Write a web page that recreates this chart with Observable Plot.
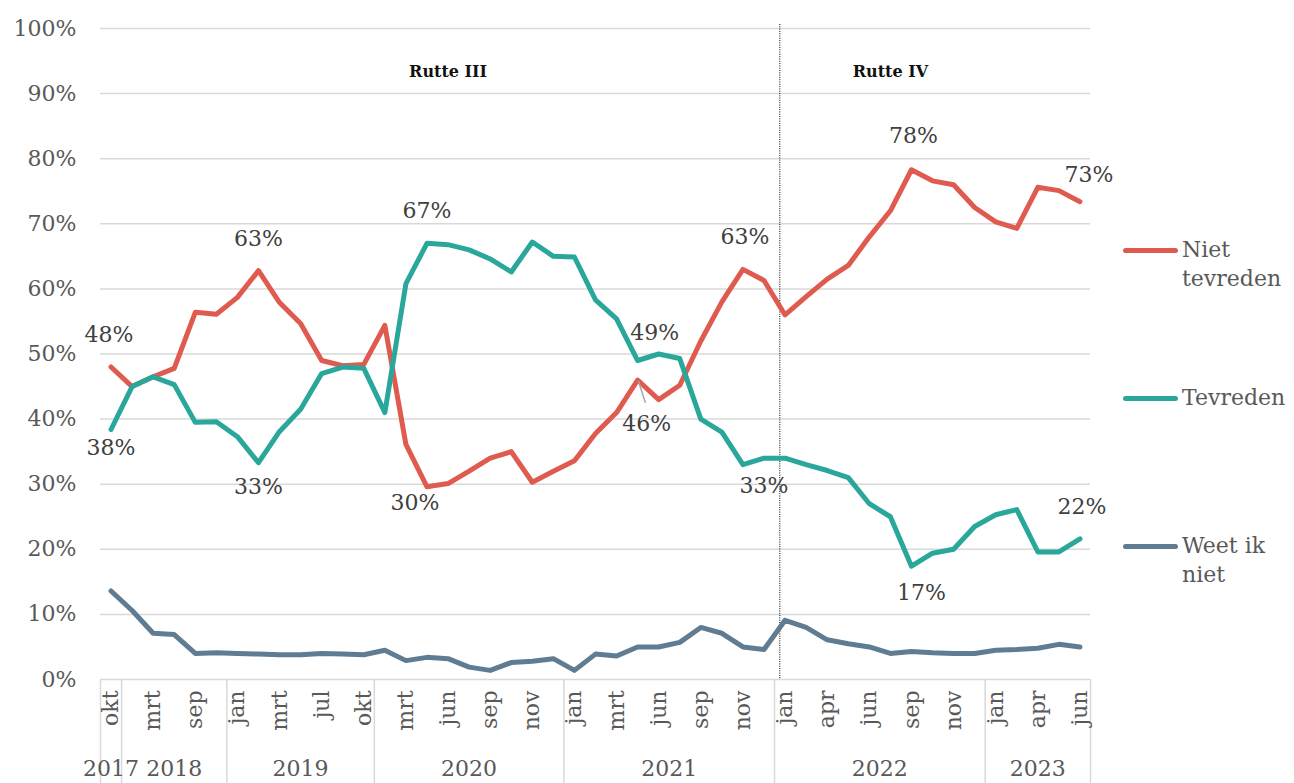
<!DOCTYPE html>
<html>
<head>
<meta charset="utf-8">
<script src="https://cdn.jsdelivr.net/npm/d3@7"></script>
<script src="https://cdn.jsdelivr.net/npm/@observablehq/plot@0.6"></script>
<style>
  html, body { margin: 0; padding: 0; background: #fff; }
  #wrap { position: relative; width: 1294px; height: 783px; overflow: hidden; font-family: "DejaVu Serif", serif; }
  .leg { position: absolute; font-size: 22px; line-height: 29px; color: #595959; }
  .legline { position: absolute; height: 5px; width: 55px; border-radius: 3px; }
</style>
</head>
<body>
<div id="wrap"></div>
<script>
// ---- data (one survey per category, evenly spaced) ----
const months = [
  "okt",
  "jan","mrt","jun","sep","nov",
  "jan","feb","mrt","mei","jul","sep","okt",
  "jan","mrt","mei","jun","aug","sep","okt","nov","dec",
  "jan","feb","mrt","mei","jun","jul","sep","okt","nov","dec",
  "jan","feb","apr","mei","jun","jul","sep","okt","nov","dec",
  "jan","mrt","apr","mei","jun"
];
const years = [
  2017,
  2018,2018,2018,2018,2018,
  2019,2019,2019,2019,2019,2019,2019,
  2020,2020,2020,2020,2020,2020,2020,2020,2020,
  2021,2021,2021,2021,2021,2021,2021,2021,2021,2021,
  2022,2022,2022,2022,2022,2022,2022,2022,2022,2022,
  2023,2023,2023,2023,2023
];
const nietTevreden = [
  48.0,
  45.0,46.5,47.8,56.4,56.1,
  58.7,62.8,57.9,54.7,49.0,48.2,48.4,
  54.4,36.1,29.6,30.1,32.0,34.0,35.0,30.3,32.0,
  33.6,37.8,41.0,46.0,43.0,45.2,52.0,58.0,63.0,61.3,
  56.0,58.8,61.5,63.6,68.0,72.0,78.3,76.6,76.0,72.5,
  70.3,69.3,75.6,75.1,73.4
];
const tevreden = [
  38.4,
  45.0,46.5,45.3,39.5,39.6,
  37.3,33.3,38.1,41.5,47.0,48.0,47.8,
  41.0,60.8,67.0,66.8,66.0,64.6,62.6,67.2,65.0,
  64.9,58.3,55.4,49.0,50.0,49.3,40.0,38.0,33.0,34.0,
  34.0,33.0,32.1,31.0,27.0,25.0,17.4,19.4,20.0,23.5,
  25.3,26.1,19.6,19.6,21.6
];
const weetIkNiet = [
  13.6,
  10.6,7.1,6.9,4.0,4.1,
  4.0,3.9,3.8,3.8,4.0,3.9,3.8,
  4.5,2.9,3.4,3.2,1.9,1.4,2.6,2.8,3.2,
  1.4,3.9,3.6,5.0,5.0,5.7,8.0,7.1,5.0,4.6,
  9.1,8.0,6.1,5.5,5.0,4.0,4.3,4.1,4.0,4.0,
  4.5,4.6,4.8,5.4,5.0
];
const seriesNames = ["Niet tevreden", "Tevreden", "Weet ik niet"];
const seriesColors = ["#E05B4F", "#2AA79B", "#5F7C93"];
const yTicks = [0,10,20,30,40,50,60,70,80,90,100];
const cabinets = [{name: "Rutte III", at: 16}, {name: "Rutte IV", at: 37}];
const cabinetChange = 31.75; // jan 2022
// labelled points: [series, index]
const labelled = [
  ["Niet tevreden", 0], ["Tevreden", 0],
  ["Niet tevreden", 7], ["Tevreden", 7],
  ["Tevreden", 15], ["Niet tevreden", 15],
  ["Tevreden", 25], ["Niet tevreden", 25],
  ["Niet tevreden", 30], ["Tevreden", 30],
  ["Niet tevreden", 38], ["Tevreden", 38],
  ["Niet tevreden", 46], ["Tevreden", 46]
];

// ---- derived tables ----
const valuesBySeries = {"Niet tevreden": nietTevreden, "Tevreden": tevreden, "Weet ik niet": weetIkNiet};
const N = months.length;
const rows = seriesNames.flatMap(s => valuesBySeries[s].map((v, i) => ({s, i, v})));
const monthTicks = months.map((m, i) => ({i, m})).filter(d => d.i % 2 === 0);
const yearGroups = d3.groups(months.map((m, i) => ({i, y: years[i]})), d => d.y)
  .map(([y, arr]) => ({year: String(y), first: arr[0].i, last: arr[arr.length - 1].i}));
const boundaries = [-0.5, ...yearGroups.map(g => g.last + 0.5)];
const yearLabels = yearGroups.map(g => ({year: g.year, c: (g.first + g.last) / 2}));

// label offsets (style)
const off = {
  "Niet tevreden|0": [-2, -32], "Tevreden|0": [0, 18],
  "Niet tevreden|7": [0, -32], "Tevreden|7": [0, 24],
  "Tevreden|15": [0, -32], "Niet tevreden|15": [-12, 16],
  "Tevreden|25": [17, -28], "Niet tevreden|25": [9, 44],
  "Niet tevreden|30": [2, -32], "Tevreden|30": [21, 21],
  "Niet tevreden|38": [2, -34], "Tevreden|38": [10, 27],
  "Niet tevreden|46": [9, -27], "Tevreden|46": [2, -32]
};
const labelMarks = labelled.map(([s, i]) => {
  const v = valuesBySeries[s][i];
  const [dx, dy] = off[s + "|" + i];
  return Plot.text([{i, v}], {x: "i", y: "v", text: d => Math.round(d.v) + "%", dx, dy,
    fontSize: 22, fill: "#404040", lineAnchor: "middle"});
});

const chart = Plot.plot({
  width: 1294,
  height: 783,
  marginLeft: 100,
  marginRight: 204,
  marginTop: 28,
  marginBottom: 104,
  style: {fontFamily: "DejaVu Serif, serif", background: "#fff", overflow: "visible"},
  x: {domain: [-0.5, N - 0.5], axis: null},
  y: {domain: [0, 100], axis: null},
  color: {domain: seriesNames, range: seriesColors},
  marks: [
    Plot.ruleY(yTicks, {stroke: "#d9d9d9", strokeWidth: 1.5}),
    Plot.ruleX(boundaries, {stroke: "#d9d9d9", strokeWidth: 1.5, insetTop: 651, insetBottom: -104}),
    Plot.text(yTicks, {y: d => d, text: d => d + "%", frameAnchor: "left", dx: -24, textAnchor: "end",
      fontSize: 22, fill: "#595959"}),
    Plot.text(monthTicks, {x: "i", text: "m", frameAnchor: "bottom", dy: 11, rotate: -90,
      textAnchor: "end", lineAnchor: "middle", fontSize: 22, fill: "#595959"}),
    Plot.text(yearLabels, {x: "c", text: "year", frameAnchor: "bottom", dy: 89, lineAnchor: "middle",
      fontSize: 22, fill: "#595959"}),
    Plot.ruleX([cabinetChange], {stroke: "#000", strokeWidth: 1, strokeDasharray: "1,1.3", insetTop: -4}),
    Plot.text(cabinets, {x: "at", text: "name", frameAnchor: "top", dy: 37, fontSize: 16,
      fontWeight: "bold", fill: "#111"}),
    ...seriesNames.map(s => Plot.line(rows.filter(r => r.s === s), {x: "i", y: "v", stroke: "s",
      strokeWidth: 5, strokeLinejoin: "round", strokeLinecap: "round"})),
    Plot.link([{x1: 25.04, y1: 45.8, x2: 25.37, y2: 42.5}], {x1: "x1", y1: "y1", x2: "x2", y2: "y2",
      stroke: "#a6a6a6", strokeWidth: 1.5}),
    ...labelMarks
  ]
});

const wrap = document.getElementById("wrap");
wrap.appendChild(chart);

// legend (HTML, right side)
const legendY = [250, 398, 546];
const legendText = ["Niet<br>tevreden", "Tevreden", "Weet ik<br>niet"];
seriesNames.forEach((s, k) => {
  const ln = document.createElement("div");
  ln.className = "legline";
  ln.style.left = "1123px";
  ln.style.top = (legendY[k] - 2.5) + "px";
  ln.style.background = seriesColors[k];
  wrap.appendChild(ln);
  const t = document.createElement("div");
  t.className = "leg";
  t.style.left = "1182px";
  t.style.top = (legendY[k] - 15) + "px";
  t.innerHTML = legendText[k];
  wrap.appendChild(t);
});
</script>
</body>
</html>
